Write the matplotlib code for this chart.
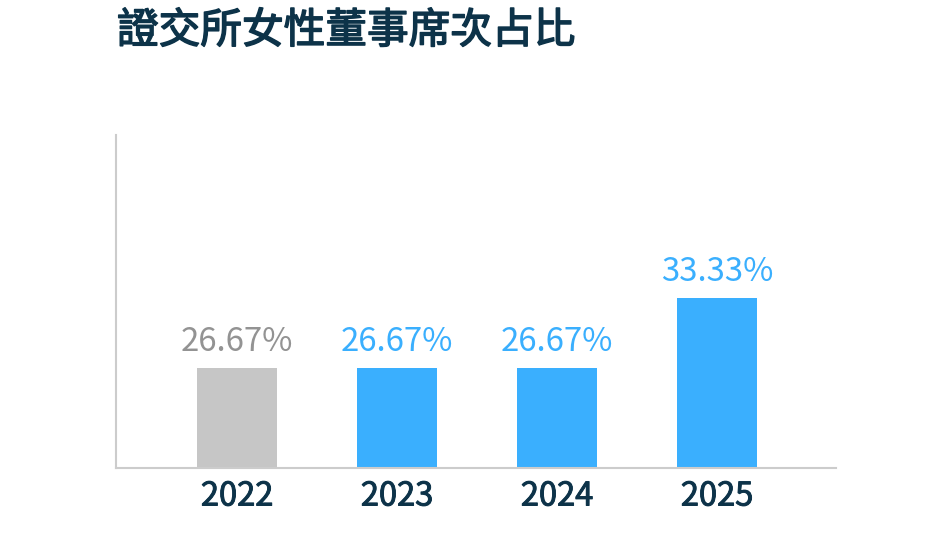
import numpy as np
import matplotlib
matplotlib.use('Agg')
import matplotlib.pyplot as plt
import matplotlib.patheffects as pe

plt.rcParams['font.family'] = ['Noto Sans CJK TC', 'DejaVu Sans']

years = ['2022', '2023', '2024', '2025']
share = [26.67, 26.67, 26.67, 33.33]
bar_colors = ['#c6c6c6', '#3aaffe', '#3aaffe', '#3aaffe']
label_colors = ['#939393', '#3aaffe', '#3aaffe', '#3aaffe']

navy = '#0d3349'
# regular weight thickened a bit, the font here has no medium
medium = [pe.withStroke(linewidth=0.7, foreground=navy)]

W, H = 952, 560
fig = plt.figure(figsize=(W / 100, H / 100), dpi=100)
ax = fig.add_axes([116 / W, (H - 468) / H, 720 / W, 333 / H])

x = np.arange(len(years))
ax.bar(x, share, width=0.5, color=bar_colors, zorder=2)
for xi, v, c in zip(x, share, label_colors):
    ax.annotate(f'{v:.2f}%', (xi, v), xytext=(0, 10), textcoords='offset pixels',
                ha='center', va='bottom', fontsize=23.7, color=c)

ax.set_xlim(-0.756, 3.744)
ax.set_ylim(17.15, 48.85)
ax.set_xticks(x)
ax.set_xticklabels(years, fontsize=23.5, color=navy)
for t in ax.get_xticklabels():
    t.set_path_effects(medium)
ax.tick_params(axis='x', length=0, pad=9)
ax.set_yticks([])
for s in ['top', 'right']:
    ax.spines[s].set_visible(False)
for s in ['left', 'bottom']:
    ax.spines[s].set_color('#cccccc')
    ax.spines[s].set_linewidth(1.5)

fig.text(117 / W, 1 - 11 / H, '證交所女性董事席次占比', ha='left', va='top',
         fontsize=30, color=navy,
         path_effects=[pe.withStroke(linewidth=1.1, foreground=navy)])

fig.savefig('out.png', dpi=100)
